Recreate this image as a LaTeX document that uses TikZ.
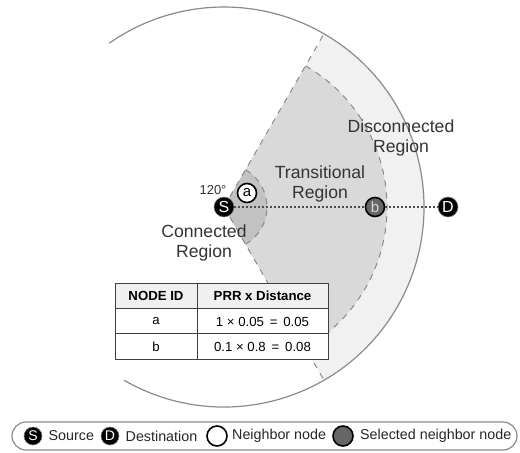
\documentclass[tikz,border=0pt]{standalone}
\usepackage{fontspec}
\setmainfont{Liberation Sans}
\usetikzlibrary{positioning}

\definecolor{disgray}{HTML}{F1F1F1}
\definecolor{trangray}{HTML}{D9D9D9}
\definecolor{congray}{HTML}{C2C2C2}
\definecolor{linegray}{HTML}{8A8A8A}
\definecolor{selgray}{HTML}{666666}

\begin{document}
\begin{tikzpicture}[x=0.5pt,y=0.5pt,
  border/.style={dashed, linegray, line width=0.5pt},
  rangeline/.style={linegray, line width=0.6pt},
  pathline/.style={gray!60!black, line width=0.8pt, dash pattern=on 0.8pt off 1.2pt},
  srcnode/.style={circle, fill=black, draw=gray, line width=0.3pt, text=white, inner sep=0pt, minimum size=10pt, font=\fontsize{8}{8}\selectfont},
  nbnode/.style={circle, fill=white, draw=black, line width=0.8pt, inner sep=0pt, minimum size=9.5pt, font=\fontsize{7.5}{7.5}\selectfont},
  selnode/.style={circle, fill=selgray, draw=black, line width=0.8pt, text=gray!30, inner sep=0pt, minimum size=9.5pt, font=\fontsize{7.5}{7.5}\selectfont},
  lbl/.style={align=center, text=black!80, font=\fontsize{8.8}{10}\selectfont},
  cell/.style={draw=black!75, line width=0.5pt, inner sep=0pt, minimum height=12.75pt, font=\fontsize{6.6}{7}\selectfont},
  legtext/.style={inner sep=0pt, text=black!85, font=\fontsize{7.15}{8}\selectfont}
]

\useasboundingbox (0,0) rectangle (520,452);

\coordinate (O) at (224,245);

\fill[disgray] (O) -- ++(60:200) arc[start angle=60, end angle=-60, radius=200] -- cycle;
\fill[trangray] (O) -- ++(60:163) arc[start angle=60, end angle=-60, radius=163] -- cycle;
\fill[congray] (O) -- ++(60:43) arc[start angle=60, end angle=-60, radius=43] -- cycle;

\draw[border] (O) -- ++(60:200);
\draw[border] (O) -- ++(-60:200);
\draw[border] (O) ++(60:163) arc[start angle=60, end angle=-60, radius=163];
\draw[border] (O) ++(60:43) arc[start angle=60, end angle=-60, radius=43];

\draw[rangeline] (O) ++(-120:200) arc[start angle=-120, end angle=125, radius=200];

\node[srcnode] (S) at (O) {S};
\node[nbnode] (a) at (247,259) {a};
\node[selnode] (b) at (375,245) {b};
\node[srcnode] (D) at (448,245) {D};

\draw[pathline] (S) -- (b);
\draw[pathline] (b) -- (D);

\node[text=black!80, font=\fontsize{6.5}{7}\selectfont] (deg) at (213,262) {120°};
\node[lbl] (conn) at (204,209) {Connected\\Region};
\node[lbl] (tran) at (320,268) {Transitional\\Region};
\node[lbl] (disc) at (401,314) {Disconnected\\Region};

\node[cell, fill=gray!12, minimum width=41pt, minimum height=13pt, font=\fontsize{6.6}{7}\selectfont\bfseries] (hid) at (156,156) {NODE ID};
\node[cell, fill=gray!12, minimum width=65.5pt, minimum height=13pt, font=\fontsize{6.6}{7}\selectfont\bfseries] (hprr) at (262.5,156) {PRR x Distance};
\node[cell, fill=white, minimum width=41pt] (ida) at (156,130.5) {a};
\node[cell, fill=white, minimum width=65.5pt] (prra) at (262.5,130.5) {1 × 0.05 \,=\, 0.05};
\node[cell, fill=white, minimum width=41pt] (idb) at (156,105.5) {b};
\node[cell, fill=white, minimum width=65.5pt] (prrb) at (262.5,105.5) {0.1 × 0.8 \,=\, 0.08};

\draw[linegray, line width=0.6pt, rounded corners=7pt] (12,2) rectangle (517,30);

\node[srcnode, minimum size=9pt, font=\fontsize{7}{7}\selectfont] (lgS) at (33,16) {S};
\node[legtext, right=3pt of lgS] (lgSt) {Source};
\node[srcnode, minimum size=9pt, font=\fontsize{7}{7}\selectfont] (lgD) at (110,16) {D};
\node[legtext, right=3pt of lgD] (lgDt) {Destination};
\node[nbnode, minimum size=10pt] (lgN) at (217,16) {};
\node[legtext, right=2pt of lgN] (lgNt) {Neighbor node};
\node[selnode, minimum size=10pt] (lgB) at (343,16) {};
\node[legtext, right=3pt of lgB] (lgBt) {Selected neighbor node};

\end{tikzpicture}
\end{document}
